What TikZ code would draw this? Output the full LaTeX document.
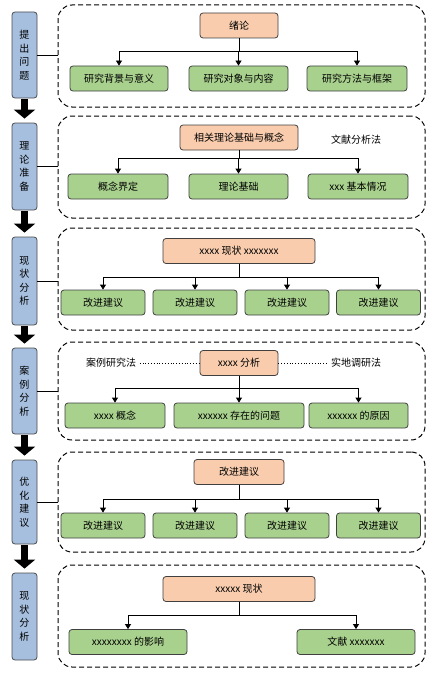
\documentclass[tikz,border=0pt]{standalone}
\usepackage{fontspec}
\setmainfont{Noto Sans CJK SC}
\usetikzlibrary{arrows.meta}
\definecolor{sideblue}{RGB}{166,191,222}
\definecolor{topsalmon}{RGB}{248,204,173}
\definecolor{subgreen}{RGB}{169,209,142}

\begin{document}
\begin{tikzpicture}[x=1pt,y=-1pt,font=\fontsize{10}{12}\selectfont,line width=0.8pt,
  side/.style={draw=black!70,fill=sideblue,rounded corners=3pt,minimum width=25pt,inner sep=0pt,align=center,font=\fontsize{10}{13.5}\selectfont},
  top/.style={draw=black!75,fill=topsalmon,rounded corners=3pt,minimum height=25pt,inner sep=0pt},
  sub/.style={draw=black!75,fill=subgreen,rounded corners=3pt,minimum height=25pt,inner sep=0pt},
  frame/.style={draw,line width=1pt,dash pattern=on 5pt off 3pt,rounded corners=14pt,minimum width=367pt,inner sep=0pt},
  link/.style={-{Triangle[width=6pt,length=5pt]}},
  down/.style={-{Triangle[width=21pt,length=9pt]},line width=7pt,shorten <=1pt,shorten >=4pt}]
\useasboundingbox (0,0) rectangle (435,685);

\node (s1) [side,minimum height=86pt] at (24.5,55) {提\\出\\问\\题};
\node (s2) [side,minimum height=87pt] at (24.5,166.5) {理\\论\\准\\备};
\node (s3) [side,minimum height=88pt] at (24.5,281) {现\\状\\分\\析};
\node (s4) [side,minimum height=86pt] at (24.5,391) {案\\例\\分\\析};
\node (s5) [side,minimum height=84pt] at (24.5,502) {优\\化\\建\\议};
\node (s6) [side,minimum height=87pt] at (24.5,616.5) {现\\状\\分\\析};
\foreach \a/\b in {s1/s2,s2/s3,s3/s4,s4/s5,s5/s6}
  \draw[down] (\a) -- (\b);

\node (f1) [frame,minimum height=102pt] at (241.5,56) {};
\node (f2) [frame,minimum height=102pt] at (241.5,167) {};
\node (f3) [frame,minimum height=102pt] at (241.5,279) {};
\node (f4) [frame,minimum height=98pt] at (241.5,391) {};
\node (f5) [frame,minimum height=100pt] at (241.5,502) {};
\node (f6) [frame,minimum height=102pt] at (241.5,616) {};
\foreach \i in {1,...,5}
  \draw (s\i.east) -- (s\i.east -| f\i.west);

% 提出问题
\node (t1) [top,minimum width=78pt] at (239,25.5) {绪论};
\node (c11) [sub,minimum width=98pt] at (119,78.5) {研究背景与意义};
\node (c12) [sub,minimum width=99pt] at (238.5,78.5) {研究对象与内容};
\node (c13) [sub,minimum width=100pt] at (357,78.5) {研究方法与框架};
\coordinate (b1) at (239,51);
\draw (t1) -- (b1);
\foreach \c in {c11,c12,c13}
  \draw[link] (b1) -| (\c);

% 理论准备
\node (t2) [top,minimum width=118pt] at (239,137.5) {相关理论基础与概念};
\node (n2) at (356,140) {文献分析法};
\node (c21) [sub,minimum width=100pt] at (118,186.5) {概念界定};
\node (c22) [sub,minimum width=99pt] at (238.5,186.5) {理论基础};
\node (c23) [sub,minimum width=100pt] at (358,186.5) {xxx 基本情况};
\coordinate (b2) at (239,158);
\draw (t2) -- (b2);
\foreach \c in {c21,c22,c23}
  \draw[link] (b2) -| (\c);

% 现状分析
\node (t3) [top,minimum width=152pt] at (239,251) {xxxx 现状 xxxxxxx};
\node (c31) [sub,minimum width=84pt] at (103,302.5) {改进建议};
\node (c32) [sub,minimum width=84pt] at (195,302.5) {改进建议};
\node (c33) [sub,minimum width=84pt] at (287,302.5) {改进建议};
\node (c34) [sub,minimum width=84pt] at (378.5,302.5) {改进建议};
\coordinate (b3) at (239,277);
\draw (t3) -- (b3);
\foreach \c in {c31,c32,c33,c34}
  \draw[link] (b3) -| (\c);

% 案例分析
\node (t4) [top,minimum width=78pt] at (239,363) {xxxx 分析};
\node (n41) at (111,363) {案例研究法};
\node (n42) at (356,363) {实地调研法};
\draw[dotted] (n41) -- (t4);
\draw[dotted] (t4) -- (n42);
\node (c41) [sub,minimum width=100pt] at (115,415.5) {xxxx 概念};
\node (c42) [sub,minimum width=130pt] at (239,415.5) {xxxxxx 存在的问题};
\node (c43) [sub,minimum width=99pt] at (358.5,415.5) {xxxxxx 的原因};
\coordinate (b4) at (239,388);
\draw (t4) -- (b4);
\foreach \c in {c41,c42,c43}
  \draw[link] (b4) -| (\c);

% 优化建议
\node (t5) [top,minimum width=90pt] at (239,472) {改进建议};
\node (c51) [sub,minimum width=84pt] at (103,525.5) {改进建议};
\node (c52) [sub,minimum width=84pt] at (195,525.5) {改进建议};
\node (c53) [sub,minimum width=84pt] at (287,525.5) {改进建议};
\node (c54) [sub,minimum width=84pt] at (378.5,525.5) {改进建议};
\coordinate (b5) at (239,499);
\draw (t5) -- (b5);
\foreach \c in {c51,c52,c53,c54}
  \draw[link] (b5) -| (\c);

% 现状分析
\node (t6) [top,minimum width=152pt] at (239,589) {xxxxx 现状};
\node (c61) [sub,minimum width=118pt] at (128,642) {xxxxxxxx 的影响};
\node (c62) [sub,minimum width=118pt] at (356,642) {文献 xxxxxxx};
\coordinate (b6) at (239,615);
\draw (t6) -- (b6);
\foreach \c in {c61,c62}
  \draw[link] (b6) -| (\c);
\end{tikzpicture}
\end{document}
